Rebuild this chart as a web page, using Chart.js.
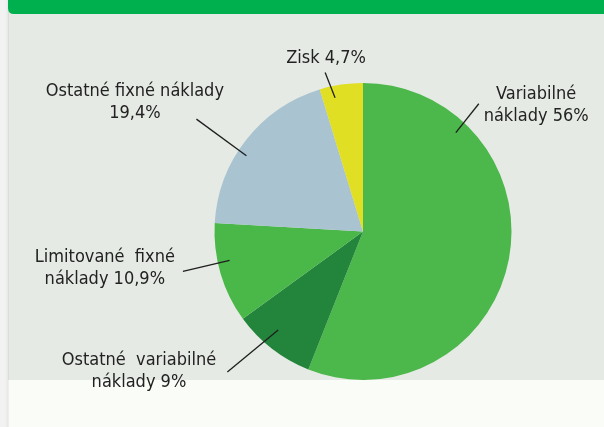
<!DOCTYPE html>
<html><head><meta charset="utf-8">
<script src="https://cdn.jsdelivr.net/npm/chart.js@4/dist/chart.umd.min.js"></script>
<style>html,body{margin:0;padding:0;background:#e5eae4;}canvas{display:block;}</style>
</head><body>
<canvas id="c" width="604" height="427"></canvas>
<script>
const categories = ["Variabilné náklady", "Ostatné variabilné náklady", "Limitované fixné náklady", "Ostatné fixné náklady", "Zisk"];
const values = [56, 9, 10.9, 19.4, 4.7];
const labelLines = [
  ["Variabilné", "náklady 56%"],
  ["Ostatné  variabilné", "náklady 9%"],
  ["Limitované  fixné", "náklady 10,9%"],
  ["Ostatné fixné náklady", "19,4%"],
  ["Zisk 4,7%"]
];
const colors = ["#4cb74a", "#23853b", "#4ab749", "#a9c3d1", "#e1df23"];

// leader geometry relative to arc centre: angle (deg clockwise from 12 o'clock), radius factor
const leaders = [
  {a1: 43.2, r1: 0.913, a2: 42.2, r2: 1.161, ta: 53.9, tr: 1.443},
  {a1: 220.7, r1: 0.876, a2: 224, r2: 1.315, ta: 238, tr: 1.779},
  {a1: 257.8, r1: 0.919, a2: 257.5, r2: 1.242, ta: 261.9, tr: 1.756},
  {a1: 303, r1: 0.936, a2: 304, r2: 1.353, ta: 299.5, tr: 1.765},
  {a1: 348.2, r1: 0.92, a2: 346.6, r2: 1.10, ta: 348, tr: 1.195}
];

const bgPlugin = {
  id: 'bg',
  beforeDraw(chart) {
    const ctx = chart.ctx;
    ctx.save();
    ctx.fillStyle = '#e5eae4';
    ctx.fillRect(0, 0, 604, 427);
    ctx.fillStyle = '#fafcf7';
    ctx.fillRect(8, 380, 596, 47);
    ctx.fillStyle = '#f1f2f1';
    ctx.fillRect(0, 0, 8, 427);
    const g = ctx.createLinearGradient(5, 0, 9, 0);
    g.addColorStop(0, 'rgba(0,0,0,0)');
    g.addColorStop(1, 'rgba(0,0,0,0.06)');
    ctx.fillStyle = g;
    ctx.fillRect(5, 0, 4, 427);
    ctx.fillStyle = '#00b04f';
    ctx.beginPath();
    ctx.moveTo(8, 0);
    ctx.lineTo(604, 0);
    ctx.lineTo(604, 14);
    ctx.lineTo(14, 14);
    ctx.quadraticCurveTo(8, 14, 8, 8);
    ctx.closePath();
    ctx.fill();
    ctx.restore();
  }
};

const labelPlugin = {
  id: 'leaders',
  afterDraw(chart) {
    const ctx = chart.ctx;
    const meta = chart.getDatasetMeta(0);
    ctx.save();
    meta.data.forEach((arc, i) => {
      const p = arc.getProps(['x', 'y', 'outerRadius'], true);
      const L = leaders[i];
      const pt = (a, r) => {
        const t = a * Math.PI / 180;
        return [p.x + Math.sin(t) * r * p.outerRadius, p.y - Math.cos(t) * r * p.outerRadius];
      };
      const [x1, y1] = pt(L.a1, L.r1);
      const [x2, y2] = pt(L.a2, L.r2);
      ctx.strokeStyle = '#1e1e1e';
      ctx.lineWidth = 1.3;
      ctx.beginPath();
      ctx.moveTo(x1, y1);
      ctx.lineTo(x2, y2);
      ctx.stroke();
      const [tx, ty] = pt(L.ta, L.tr);
      const lines = labelLines[i];
      const lh = 22;
      ctx.fillStyle = '#222';
      ctx.font = '18px "DejaVu Sans Condensed", "DejaVu Sans", sans-serif';
      ctx.textAlign = 'center';
      ctx.textBaseline = 'middle';
      lines.forEach((s, k) => {
        ctx.fillText(s, tx, ty + (k - (lines.length - 1) / 2) * lh);
      });
    });
    ctx.restore();
  }
};

new Chart(document.getElementById('c'), {
  type: 'pie',
  data: {
    labels: categories,
    datasets: [{
      data: values,
      backgroundColor: colors,
      borderWidth: 0,
      hoverOffset: 0,
      offset: 0
    }]
  },
  options: {
    responsive: false,
    animation: false,
    events: [],
    layout: { padding: { left: 213, right: 91, top: 83, bottom: 47 } },
    plugins: { legend: { display: false }, tooltip: { enabled: false } }
  },
  plugins: [bgPlugin, labelPlugin]
});
</script>
</body></html>
